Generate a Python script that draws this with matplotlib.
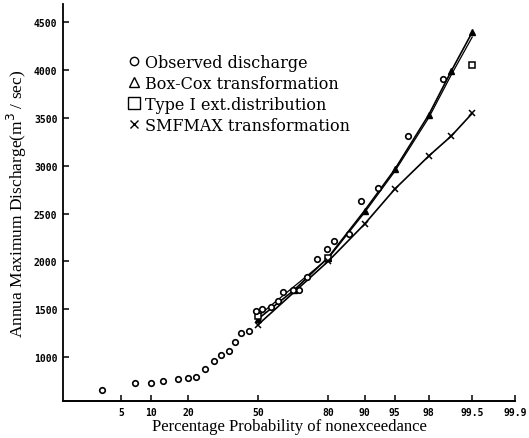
import numpy as np
import matplotlib
matplotlib.use('Agg')
import matplotlib.pyplot as plt
from matplotlib.lines import Line2D
from statistics import NormalDist

# observed annual maxima (plotting position %, m3/sec)
obs_p = [3.05, 7.0, 10.0, 12.7, 16.8, 20.0, 22.9, 26.3, 29.9, 32.7, 36.5, 39.1,
         42.1, 45.7, 48.9, 51.9, 56.0, 59.4, 62.0, 66.2, 69.0, 72.1, 76.2, 79.5,
         81.9, 86.4, 89.2, 92.5, 96.45, 98.7]
obs_q = [662, 735, 732, 753, 774, 781, 791, 878, 965, 1027, 1063, 1156,
         1250, 1271, 1486, 1504, 1521, 1584, 1684, 1702, 1702, 1837, 2025, 2129,
         2210, 2285, 2633, 2766, 3311, 3902]

# Box-Cox transformation
bc_p = [50, 66.7, 80, 90, 95, 98, 99, 99.5]
bc_q = [1400, 1700, 2040, 2530, 2960, 3530, 3990, 4390]

# Type I extreme value distribution
t1_p = [50, 80, 90, 95, 98, 99, 99.5]
t1_q = [1430, 2030, 2510, 2940, 3500, 3950, 4340]
t1_mark_p = [50, 80, 99.5]
t1_mark_q = [1430, 2035, 4048]

# SMEMAX transformation
sm_p = [50, 80, 90, 95, 98, 99, 99.5]
sm_q = [1340, 2000, 2390, 2755, 3100, 3310, 3545]

xticks = [5, 10, 20, 50, 80, 90, 95, 98, 99.5, 99.9]
xticklabels = ['5', '10', '20', '50', '80', '90', '95', '98', '99.5', '99.9']
yticks = [1000, 1500, 2000, 2500, 3000, 3500, 4000, 4500]

_nd = NormalDist()
_fwd = np.vectorize(lambda v: _nd.inv_cdf(min(max(v, 1e-6), 100 - 1e-6) / 100), otypes=[float])
_inv = np.vectorize(lambda v: _nd.cdf(v) * 100, otypes=[float])


def to_z(p):
    return _fwd(np.asarray(p, dtype=float))


def from_z(z):
    return _inv(np.asarray(z, dtype=float))


fig = plt.figure(figsize=(5.29, 4.39), dpi=100)
ax = fig.add_axes([0.119, 0.0843, 0.8545, 0.9043])
ax.set_xscale('function', functions=(to_z, from_z))

ax.plot(bc_p, bc_q, color='black', lw=1.2, marker='^', ms=4, mfc='black', mec='black')
ax.plot(t1_p, t1_q, color='black', lw=0.9)
ax.plot(t1_mark_p, t1_mark_q, ls='none', marker='s', ms=4, mfc='white', mec='black', mew=1.1)
ax.plot(sm_p, sm_q, color='black', lw=1.2, marker='x', ms=5, mew=1.1)
ax.plot(obs_p, obs_q, ls='none', marker='o', ms=4, mfc='white', mec='black', mew=1.2)

ax.set_xlim(0.95, 99.9)
ax.set_ylim(545, 4685)
ax.set_xticks(xticks)
ax.set_xticklabels(xticklabels)
ax.set_yticks(yticks)
ax.minorticks_off()
for lab in ax.get_xticklabels() + ax.get_yticklabels():
    lab.set_fontfamily('DejaVu Sans Mono')
    lab.set_fontweight('bold')
    lab.set_fontsize(7)
ax.tick_params(direction='in', length=4, width=1.1, pad=4)

for s in ['top', 'right']:
    ax.spines[s].set_visible(False)
ax.spines['left'].set_linewidth(1.3)
ax.spines['bottom'].set_linewidth(1.4)

ax.set_xlabel('Percentage Probability of nonexceedance', family='Liberation Serif',
              fontsize=12, labelpad=1)
ax.set_ylabel('Annua Maximum Discharge(m$^3$ / sec)', family='Liberation Serif',
              fontsize=12.5)
ax.yaxis.set_label_coords(-0.076, 0.5)

handles = [
    Line2D([], [], ls='none', marker='o', ms=6, mfc='white', mec='black', mew=1.0),
    Line2D([], [], ls='none', marker='^', ms=7, mfc='white', mec='black', mew=1.0),
    Line2D([], [], ls='none', marker='s', ms=8, mfc='white', mec='black', mew=1.0),
    Line2D([], [], ls='none', marker='x', ms=6, mec='black', mew=1.0),
]
labels = ['Observed discharge', 'Box-Cox transformation',
          'Type I ext.distribution', 'SMFMAX transformation']
fig.legend(handles, labels, loc='upper left', bbox_to_anchor=(0.243, 0.875),
           frameon=False, prop={'family': 'DejaVu Serif', 'size': 11.5},
           handlelength=0.7, handletextpad=0.3, labelspacing=0.25,
           borderpad=0, borderaxespad=0)

fig.savefig('out.png', dpi=100)
